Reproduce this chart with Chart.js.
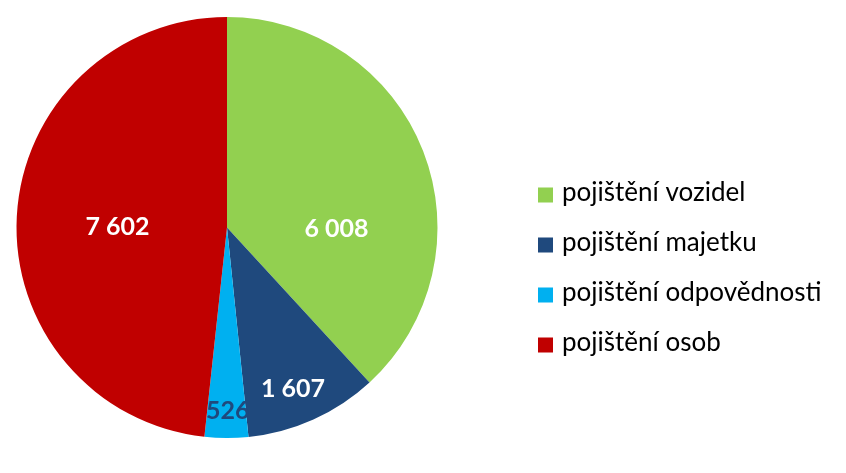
<!DOCTYPE html>
<html>
<head>
<meta charset="utf-8">
<script src="https://cdn.jsdelivr.net/npm/chart.js@4.4.1/dist/chart.umd.min.js"></script>
<style>
  html, body { margin: 0; padding: 0; background: #ffffff; }
  #wrap { width: 846px; height: 473px; position: relative; }
</style>
</head>
<body>
<div id="wrap"><canvas id="c" width="846" height="473"></canvas></div>
<script>
const categories = ["pojištění vozidel", "pojištění majetku", "pojištění odpovědnosti", "pojištění osob"];
const values = [6008, 1607, 526, 7602];
const valueLabels = ["6 008", "1 607", "526", "7 602"];

const sliceColors = ["#92D050", "#1F497D", "#00B0F0", "#C00000"];
const labelColors = ["#FFFFFF", "#FFFFFF", "#1F497D", "#FFFFFF"];
// label anchor within each slice: fraction along the slice's angle span, fraction of radius
const labelAngleFrac = [0.66, 0.555, 0.47, 0.485];
const labelRadiusFrac = [0.52, 0.83, 0.87, 0.52];

const FONT = "Lato, 'Open Sans', sans-serif";

const valueLabelPlugin = {
  id: 'valueLabels',
  afterDatasetsDraw(chart) {
    const ctx = chart.ctx;
    const meta = chart.getDatasetMeta(0);
    ctx.save();
    ctx.font = "bold 25px " + FONT;
    ctx.textAlign = 'center';
    ctx.textBaseline = 'middle';
    meta.data.forEach((arc, i) => {
      const p = arc.getProps(['x', 'y', 'startAngle', 'endAngle', 'outerRadius'], true);
      const a = p.startAngle + (p.endAngle - p.startAngle) * labelAngleFrac[i];
      const r = p.outerRadius * labelRadiusFrac[i];
      ctx.fillStyle = labelColors[i];
      ctx.fillText(valueLabels[i], p.x + Math.cos(a) * r, p.y + Math.sin(a) * r);
    });
    ctx.restore();
  }
};

const legendPlugin = {
  id: 'sideLegend',
  afterDraw(chart) {
    const ctx = chart.ctx;
    const x0 = 538, y0 = 195, step = 50, box = 15;
    ctx.save();
    ctx.font = "26px " + FONT;
    ctx.textAlign = 'left';
    ctx.textBaseline = 'middle';
    chart.data.labels.forEach((lab, i) => {
      const cy = y0 + i * step;
      ctx.fillStyle = chart.data.datasets[0].backgroundColor[i];
      ctx.fillRect(x0, cy - box / 2, box, box);
      ctx.fillStyle = '#000000';
      ctx.fillText(lab, x0 + 24, cy - 2);
    });
    ctx.restore();
  }
};

new Chart(document.getElementById('c'), {
  type: 'pie',
  data: {
    labels: categories,
    datasets: [{
      data: values,
      backgroundColor: sliceColors,
      borderWidth: 0
    }]
  },
  options: {
    responsive: false,
    animation: false,
    layout: { padding: { left: 16, top: 17, bottom: 35, right: 408 } },
    plugins: {
      legend: { display: false },
      tooltip: { enabled: false }
    }
  },
  plugins: [valueLabelPlugin, legendPlugin]
});
</script>
</body>
</html>
